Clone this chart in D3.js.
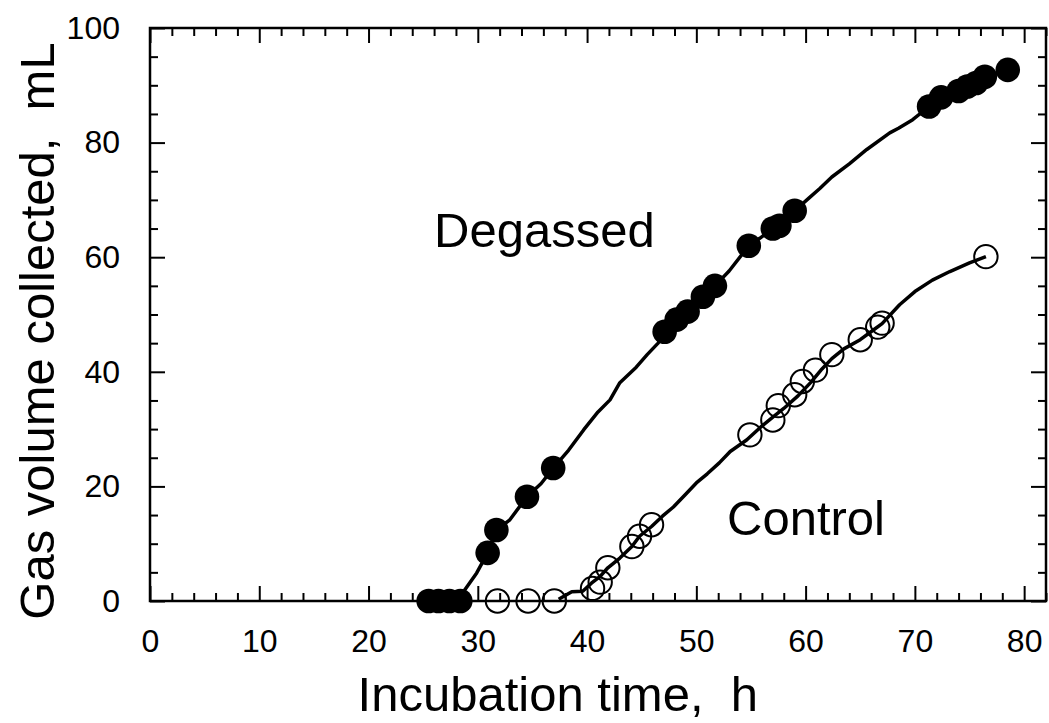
<!DOCTYPE html>
<html>
<head>
<meta charset="utf-8">
<script src="https://cdn.jsdelivr.net/npm/d3@7"></script>
<style>
  body { margin: 0; background: #fff; }
  svg { display: block; font-family: "Liberation Sans", Arial, sans-serif; }
  .axis path { display: none; }
  .axis line { stroke: #000; stroke-width: 2; }
  .axis text { font-size: 32px; fill: #000; font-family: "Liberation Sans", Arial, sans-serif; }
</style>
</head>
<body>
<svg></svg>
<script>
// measured points (markers)
const degassedX = [25.5, 26.4, 27.4, 28.4, 30.9, 31.7, 34.5, 36.9, 47.1, 48.2, 49.2, 50.6, 51.7,
  54.8, 57.0, 57.6, 59.0, 71.3, 72.4, 74.0, 74.8, 75.6, 76.4, 78.5];
const degassedY = [0, 0, 0, 0, 8.4, 12.4, 18.2, 23.2, 47.0, 49.1, 50.5, 53.1, 55.0,
  62.0, 65.0, 65.5, 68.1, 86.3, 87.9, 89.0, 89.8, 90.4, 91.5, 92.7];

const controlX = [31.8, 34.6, 37.0, 40.5, 41.2, 41.9, 44.1, 44.8, 45.9, 54.9, 57.0, 57.5, 59.0,
  59.7, 60.9, 62.4, 65.0, 66.6, 67.0, 76.5];
const controlY = [0, 0, 0, 2.2, 3.3, 5.8, 9.5, 11.3, 13.3, 29.0, 31.6, 34.1, 36.0,
  38.3, 40.3, 43.0, 45.6, 47.8, 48.5, 60.1];

// continuous recorded curves
const degassedCurve = [[25.5,0],[28.4,0],[28.8,1.9],[29.9,4.9],[30.9,8.4],[31.7,12.4],[32.9,14.1],
  [34.5,18.2],[35.8,20.5],[36.9,23.2],[38.3,26.3],[39.7,29.9],[41,33],[42.1,35.1],[43,38.1],
  [44.5,40.8],[45.5,43],[46.5,45],[47.1,47],[48.2,49.1],[49.2,50.5],[50.6,53.1],[51.7,55],
  [53,57.6],[54.8,62],[55.8,63.3],[57,65],[57.6,65.5],[59,68.1],[60.3,70.3],[61.3,72],[62.4,74],
  [64,76.3],[65.6,78.8],[67.7,81.7],[68.5,82.5],[69.8,84],[71.3,86.3],[72.4,87.9],[74,89],
  [74.8,89.8],[75.6,90.4],[76.4,91.5],[78.5,92.7]];
const controlCurve = [[37.4,0.3],[38.6,1.6],[39.6,1.7],[40.4,3.1],[41.2,4.3],[41.9,5.8],[43,7.5],
  [44.1,9.5],[44.8,11.3],[45.9,13],[46.9,14.8],[47.9,16.4],[49,18.6],[50,20.6],[51,22.2],
  [52.1,24.1],[53.1,26.1],[54.6,28.1],[55.8,30.2],[57,32.1],[58,33.6],[59.3,35.8],[60.5,38.2],
  [61.5,40.5],[62.4,42.3],[63.5,44],[65,45.6],[66.2,47.3],[67,48.4],[68.6,51.7],[70,54],
  [71.6,56],[73.2,57.5],[75,59],[76.5,60.1]];

const xMajor = [0, 10, 20, 30, 40, 50, 60, 70, 80];
const yMajor = [0, 20, 40, 60, 80, 100];

const width = 1049;
const height = 723;
const margin = { top: 28, right: 3, bottom: 122, left: 150 };
const plotW = width - margin.left - margin.right;
const plotH = height - margin.top - margin.bottom;

const svg = d3.select('svg')
  .attr('width', width)
  .attr('height', height);

const x = d3.scaleLinear().domain([0, 82]).range([0, plotW]);
const y = d3.scaleLinear().domain([0, 100]).range([plotH, 0]);

const g = svg.append('g')
  .attr('transform', `translate(${margin.left},${margin.top})`);

const xMinor = d3.range(0, 83, 2).filter(v => v % 10 !== 0);
const yMinor = d3.range(0, 101, 5).filter(v => v % 20 !== 0);

// bottom
g.append('g').attr('class', 'axis').attr('transform', `translate(0,${plotH})`)
  .call(d3.axisBottom(x).tickValues(xMajor).tickSizeInner(-15).tickSizeOuter(0).tickPadding(28));
g.append('g').attr('class', 'axis').attr('transform', `translate(0,${plotH})`)
  .call(d3.axisBottom(x).tickValues(xMinor).tickSizeInner(-8).tickSizeOuter(0).tickFormat(''));
// top
g.append('g').attr('class', 'axis')
  .call(d3.axisTop(x).tickValues(xMajor).tickSizeInner(-15).tickSizeOuter(0).tickFormat(''));
g.append('g').attr('class', 'axis')
  .call(d3.axisTop(x).tickValues(xMinor).tickSizeInner(-8).tickSizeOuter(0).tickFormat(''));
// left
g.append('g').attr('class', 'axis')
  .call(d3.axisLeft(y).tickValues(yMajor).tickSizeInner(-15).tickSizeOuter(0).tickPadding(30));
g.append('g').attr('class', 'axis')
  .call(d3.axisLeft(y).tickValues(yMinor).tickSizeInner(-8).tickSizeOuter(0).tickFormat(''));
// right
g.append('g').attr('class', 'axis').attr('transform', `translate(${plotW},0)`)
  .call(d3.axisRight(y).tickValues(yMajor).tickSizeInner(-15).tickSizeOuter(0).tickFormat(''));
g.append('g').attr('class', 'axis').attr('transform', `translate(${plotW},0)`)
  .call(d3.axisRight(y).tickValues(yMinor).tickSizeInner(-8).tickSizeOuter(0).tickFormat(''));

g.append('rect')
  .attr('width', plotW)
  .attr('height', plotH)
  .attr('fill', 'none')
  .attr('stroke', '#000')
  .attr('stroke-width', 2.5);

const line = d3.line()
  .x(d => x(d[0]))
  .y(d => y(d[1]));

g.append('path')
  .datum(degassedCurve)
  .attr('d', line)
  .attr('fill', 'none')
  .attr('stroke', '#000')
  .attr('stroke-width', 3.5)
  .attr('stroke-linejoin', 'round');

g.append('path')
  .datum(controlCurve)
  .attr('d', line)
  .attr('fill', 'none')
  .attr('stroke', '#000')
  .attr('stroke-width', 3.5)
  .attr('stroke-linejoin', 'round');

g.append('g')
  .selectAll('circle')
  .data(degassedX.map((d, i) => [d, degassedY[i]]))
  .enter()
  .append('circle')
  .attr('cx', d => x(d[0]))
  .attr('cy', d => y(d[1]))
  .attr('r', 12.3)
  .attr('fill', '#000');

g.append('g')
  .selectAll('circle')
  .data(controlX.map((d, i) => [d, controlY[i]]))
  .enter()
  .append('circle')
  .attr('cx', d => x(d[0]))
  .attr('cy', d => y(d[1]))
  .attr('r', 11.7)
  .attr('fill', 'none')
  .attr('stroke', '#000')
  .attr('stroke-width', 2);

// annotations
svg.append('text')
  .attr('x', 434)
  .attr('y', 247)
  .style('font-size', '49px')
  .text('Degassed');

svg.append('text')
  .attr('x', 727)
  .attr('y', 535)
  .style('font-size', '49px')
  .text('Control');

// axis titles
svg.append('text')
  .attr('x', 758)
  .attr('y', 711)
  .attr('text-anchor', 'end')
  .style('font-size', '49px')
  .style('white-space', 'pre')
  .text('Incubation time,  h');

svg.append('text')
  .attr('transform', 'translate(54,331) rotate(-90)')
  .attr('text-anchor', 'middle')
  .style('font-size', '49px')
  .style('white-space', 'pre')
  .text('Gas volume collected,  mL');
</script>
</body>
</html>
